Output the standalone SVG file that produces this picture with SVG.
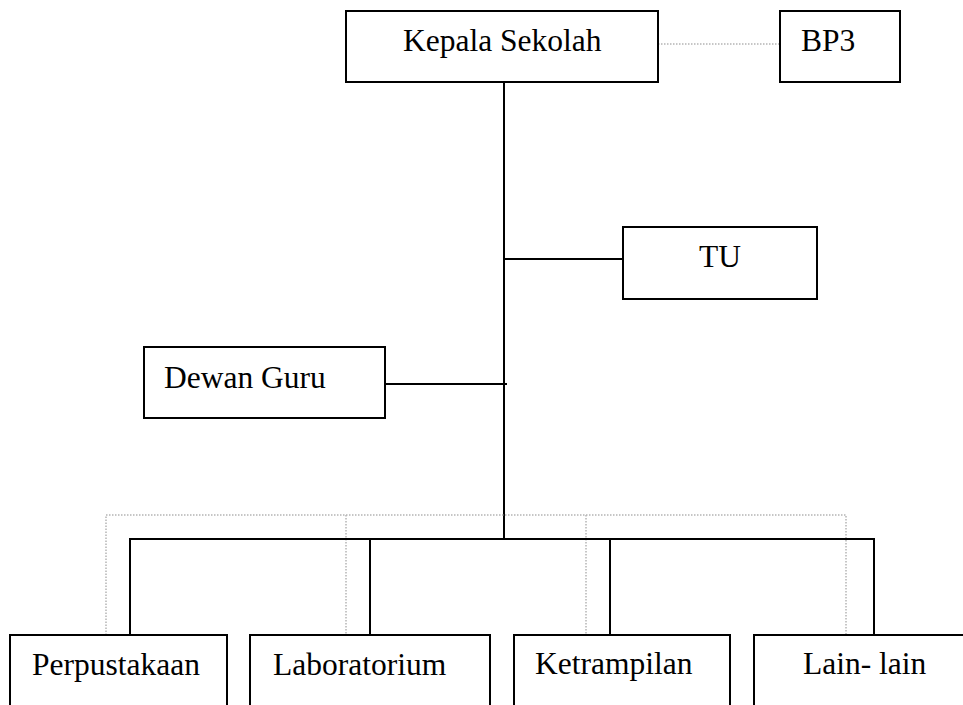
<svg xmlns="http://www.w3.org/2000/svg" width="963" height="705" viewBox="0 0 963 705">
<style>
.box{fill:#fff;stroke:#000;stroke-width:2}
.lbl{font-family:'Liberation Serif','DejaVu Serif',serif;font-size:31.5px;fill:#000}
.ln{stroke:#000;stroke-width:2;fill:none}
.dot{stroke:#b4b4b4;stroke-width:1.5;stroke-dasharray:1.5 1.5;fill:none}
</style>
<rect width="963" height="705" fill="#fff"/>
<g id="connectors">
<line class="dot" x1="658" y1="44" x2="780" y2="44"/>
<line class="ln" x1="504" y1="82" x2="504" y2="540"/>
<line class="ln" x1="504" y1="259" x2="623" y2="259"/>
<line class="ln" x1="385" y1="384" x2="507" y2="384"/>
<path class="dot" d="M106,635 V515 H846 V635 M346,515 V635 M586,515 V635"/>
<path class="ln" d="M130,635 V539 H874 V635 M370,539 V635 M610,539 V635"/>
</g>
<g id="kepala"><rect class="box" x="346" y="11" width="312" height="71"/><text class="lbl" x="403" y="51">Kepala Sekolah</text></g>
<g id="bp3"><rect class="box" x="780" y="11" width="120" height="71"/><text class="lbl" x="801" y="51">BP3</text></g>
<g id="tu"><rect class="box" x="623" y="227" width="194" height="72"/><text class="lbl" x="699" y="267">TU</text></g>
<g id="dewan"><rect class="box" x="144" y="347" width="241" height="71"/><text class="lbl" x="164" y="388">Dewan Guru</text></g>
<g id="perpustakaan"><rect class="box" x="10" y="635" width="217" height="80"/><text class="lbl" x="32" y="675">Perpustakaan</text></g>
<g id="laboratorium"><rect class="box" x="250" y="635" width="240" height="80"/><text class="lbl" x="273" y="675">Laboratorium</text></g>
<g id="ketrampilan"><rect class="box" x="514" y="635" width="216" height="80"/><text class="lbl" x="535" y="674">Ketrampilan</text></g>
<g id="lainlain"><rect class="box" x="754" y="635" width="220" height="80"/><text class="lbl" x="803" y="674">Lain- lain</text></g>
</svg>
